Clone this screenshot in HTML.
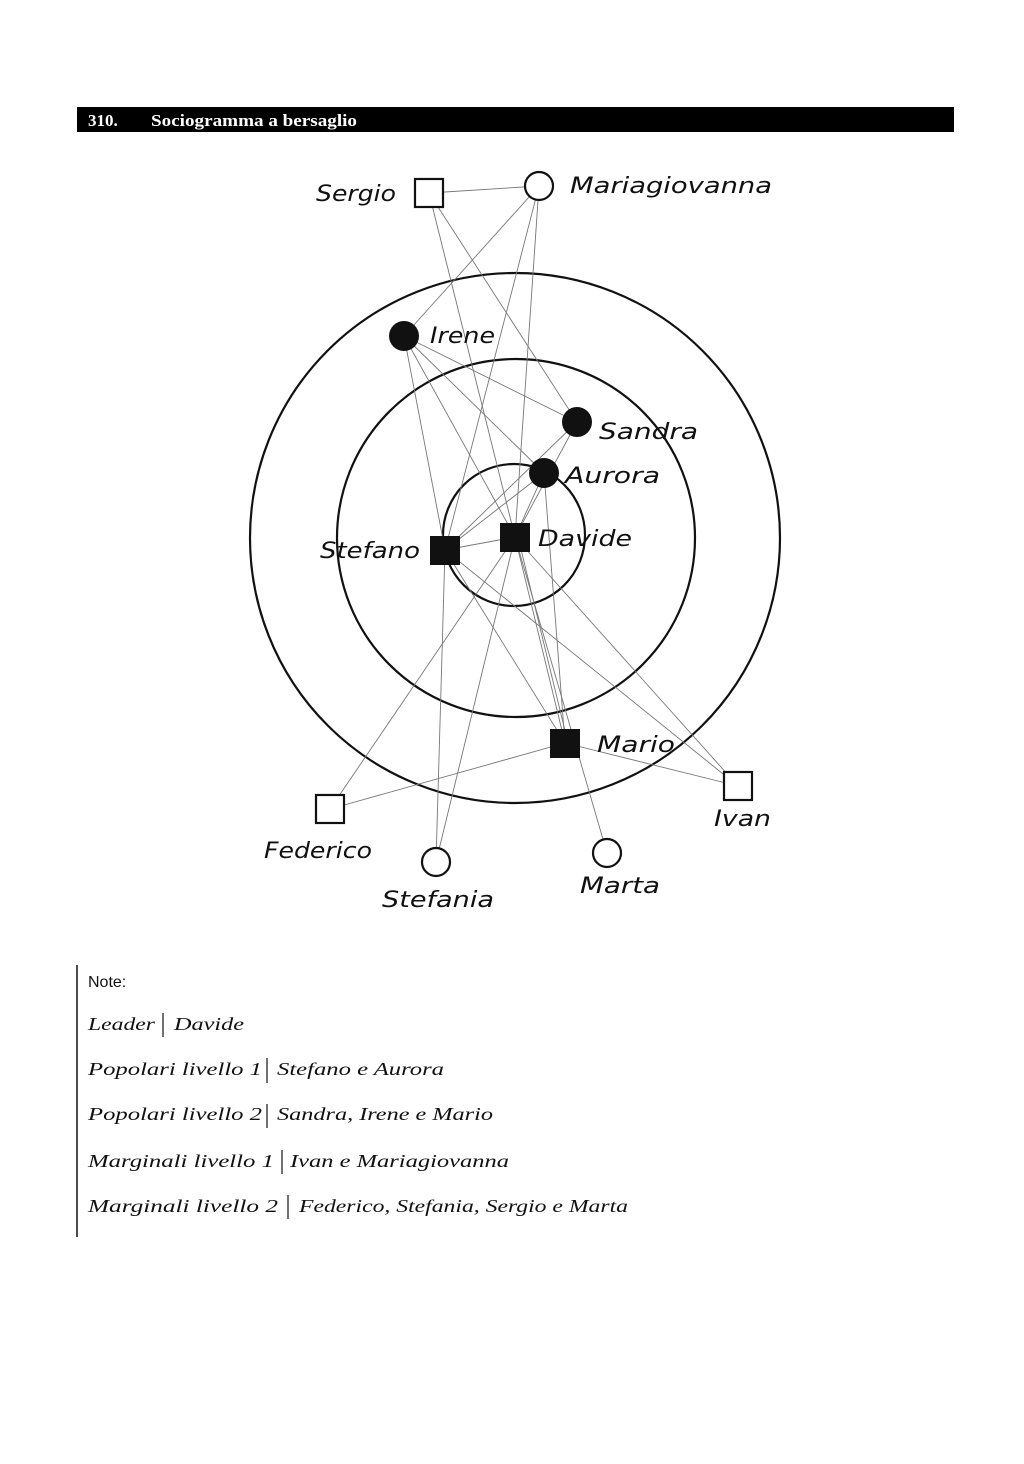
<!DOCTYPE html>
<html><head><meta charset="utf-8"><style>
html,body{margin:0;padding:0;background:#fff;}
svg{display:block;}
</style></head><body>
<svg width="1024" height="1464" viewBox="0 0 1024 1464" xmlns="http://www.w3.org/2000/svg">
<rect x="77" y="107" width="877" height="25" fill="#000"/>
<text x="88" y="126" font-family="Liberation Serif, serif" font-weight="bold" font-size="17" fill="#fff">310.</text>
<text x="151" y="126" font-family="Liberation Serif, serif" font-weight="bold" font-size="17" fill="#fff" textLength="206" lengthAdjust="spacingAndGlyphs">Sociogramma a bersaglio</text>

<g fill="none" stroke="#111" stroke-width="2.2">
<circle cx="515" cy="538" r="265"/>
<circle cx="516" cy="538" r="179"/>
<circle cx="514" cy="535" r="71"/>
</g>
<g stroke="#777" stroke-width="0.9" fill="none">
<line x1="429" y1="193" x2="539" y2="186"/>
<line x1="429" y1="193" x2="515" y2="537"/>
<line x1="429" y1="193" x2="577" y2="422"/>
<line x1="539" y1="186" x2="404" y2="336"/>
<line x1="539" y1="186" x2="445" y2="550"/>
<line x1="539" y1="186" x2="515" y2="537"/>
<line x1="404" y1="336" x2="577" y2="422"/>
<line x1="404" y1="336" x2="544" y2="473"/>
<line x1="404" y1="336" x2="445" y2="550"/>
<line x1="404" y1="336" x2="515" y2="537"/>
<line x1="577" y1="422" x2="445" y2="550"/>
<line x1="577" y1="422" x2="515" y2="537"/>
<line x1="544" y1="473" x2="445" y2="550"/>
<line x1="544" y1="473" x2="515" y2="537"/>
<line x1="544" y1="473" x2="565" y2="743"/>
<line x1="445" y1="550" x2="515" y2="537"/>
<line x1="445" y1="550" x2="436" y2="862"/>
<line x1="445" y1="550" x2="565" y2="743"/>
<line x1="445" y1="550" x2="738" y2="786"/>
<line x1="515" y1="537" x2="565" y2="743"/>
<line x1="518" y1="537" x2="568" y2="743"/>
<line x1="515" y1="537" x2="330" y2="809"/>
<line x1="515" y1="537" x2="436" y2="862"/>
<line x1="515" y1="537" x2="738" y2="786"/>
<line x1="515" y1="537" x2="607" y2="853"/>
<line x1="565" y1="743" x2="330" y2="809"/>
<line x1="565" y1="743" x2="738" y2="786"/>
</g>
<g stroke="#111" stroke-width="2.2" fill="#fff">
<rect x="415" y="179" width="28" height="28"/>
<circle cx="539" cy="186" r="14"/>
<rect x="316" y="795" width="28" height="28"/>
<rect x="724" y="772" width="28" height="28"/>
<circle cx="436" cy="862" r="14"/>
<circle cx="607" cy="853" r="14"/>
</g>
<g fill="#111">
<circle cx="404" cy="336" r="15"/>
<circle cx="577" cy="422" r="15"/>
<circle cx="544" cy="473" r="15"/>
<rect x="500" y="523" width="30" height="29"/>
<rect x="430" y="536" width="30" height="29"/>
<rect x="550" y="729" width="30" height="29"/>
</g>
<g font-family="DejaVu Sans, sans-serif" font-style="italic" font-size="22" fill="#111" lengthAdjust="spacingAndGlyphs">
<text x="316" y="201" textLength="80" lengthAdjust="spacingAndGlyphs">Sergio</text>
<text x="570" y="193" textLength="202" lengthAdjust="spacingAndGlyphs">Mariagiovanna</text>
<text x="430" y="343" textLength="65" lengthAdjust="spacingAndGlyphs">Irene</text>
<text x="599" y="439" textLength="99" lengthAdjust="spacingAndGlyphs">Sandra</text>
<text x="565" y="483" textLength="95" lengthAdjust="spacingAndGlyphs">Aurora</text>
<text x="538" y="546" textLength="94" lengthAdjust="spacingAndGlyphs">Davide</text>
<text x="320" y="558" textLength="100" lengthAdjust="spacingAndGlyphs">Stefano</text>
<text x="597" y="752" textLength="78" lengthAdjust="spacingAndGlyphs">Mario</text>
<text x="714" y="826" textLength="57" lengthAdjust="spacingAndGlyphs">Ivan</text>
<text x="264" y="858" textLength="108" lengthAdjust="spacingAndGlyphs">Federico</text>
<text x="382" y="907" textLength="112" lengthAdjust="spacingAndGlyphs">Stefania</text>
<text x="580" y="893" textLength="80" lengthAdjust="spacingAndGlyphs">Marta</text>
</g>

<line x1="77" y1="965" x2="77" y2="1237" stroke="#111" stroke-width="1.5"/>
<text x="88" y="987" font-family="Liberation Sans, sans-serif" font-size="16" fill="#111">Note:</text>
<g font-family="Liberation Serif, serif" font-style="italic" font-size="18" fill="#111">
<text x="88" y="1030" textLength="67" lengthAdjust="spacingAndGlyphs">Leader</text>
<text x="174" y="1030" textLength="70" lengthAdjust="spacingAndGlyphs">Davide</text>
<text x="88" y="1075" textLength="174" lengthAdjust="spacingAndGlyphs">Popolari livello 1</text>
<text x="277" y="1075" textLength="167" lengthAdjust="spacingAndGlyphs">Stefano e Aurora</text>
<text x="88" y="1120" textLength="174" lengthAdjust="spacingAndGlyphs">Popolari livello 2</text>
<text x="277" y="1120" textLength="216" lengthAdjust="spacingAndGlyphs">Sandra, Irene e Mario</text>
<text x="88" y="1167" textLength="186" lengthAdjust="spacingAndGlyphs">Marginali livello 1</text>
<text x="290" y="1167" textLength="219" lengthAdjust="spacingAndGlyphs">Ivan e Mariagiovanna</text>
<text x="88" y="1212" textLength="190" lengthAdjust="spacingAndGlyphs">Marginali livello 2</text>
<text x="299" y="1212" textLength="329" lengthAdjust="spacingAndGlyphs">Federico, Stefania, Sergio e Marta</text>
</g>
<g stroke="#444" stroke-width="1.5">
<line x1="163" y1="1013" x2="163" y2="1037"/>
<line x1="267" y1="1058" x2="267" y2="1083"/>
<line x1="267" y1="1104" x2="267" y2="1128"/>
<line x1="282" y1="1150" x2="282" y2="1174"/>
<line x1="288" y1="1195" x2="288" y2="1219"/>
</g>
</svg>
</body></html>
